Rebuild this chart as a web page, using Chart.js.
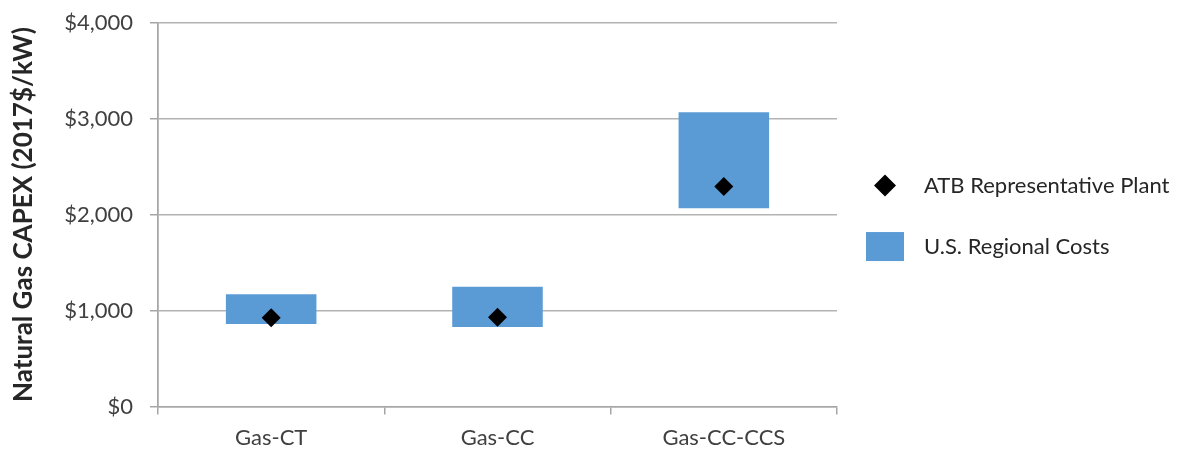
<!DOCTYPE html>
<html>
<head>
<meta charset="utf-8">
<script src="https://cdn.jsdelivr.net/npm/chart.js@4"></script>
<style>
  body { margin: 0; background: #fff; }
  canvas { display: block; }
</style>
</head>
<body>
<canvas id="capexChart" width="1188" height="452"></canvas>
<script>
const categories = ["Gas-CT", "Gas-CC", "Gas-CC-CCS"];
const regionalLow = [861, 830, 2065];
const regionalHigh = [1170, 1247, 3065];
const atbPlant = [924, 930, 2292];
const yTicks = [0, 1000, 2000, 3000, 4000];

const BLUE = "#5b9bd5";
const GRID = "#b3b3b3";
const AXIS = "#a6a6a6";
const FONT = "Lato, 'Liberation Sans', sans-serif";

// legend to the right of the plot (the built-in one is capped too narrow here)
const sideLegend = {
  id: "sideLegend",
  afterDraw(chart) {
    const { ctx, chartArea } = chart;
    const mid = (chartArea.top + chartArea.bottom) / 2;
    const iconX = chartArea.right + 48;
    const textX = chartArea.right + 87;
    const rows = [mid - 29, mid + 32];
    ctx.save();
    ctx.font = "22px " + FONT;
    ctx.textBaseline = "middle";
    ctx.textAlign = "left";
    chart.data.datasets.forEach((ds, i) => {
      const y = rows[i];
      if (ds.type === "line") {
        ctx.fillStyle = "#000";
        ctx.beginPath();
        ctx.moveTo(iconX, y - 11);
        ctx.lineTo(iconX + 11, y);
        ctx.lineTo(iconX, y + 11);
        ctx.lineTo(iconX - 11, y);
        ctx.closePath();
        ctx.fill();
      } else {
        ctx.fillStyle = ds.backgroundColor;
        ctx.fillRect(iconX - 19, y - 14.5, 38, 29);
      }
      ctx.fillStyle = "#262626";
      ctx.fillText(ds.label, textX, y);
    });
    ctx.restore();
  }
};

const ctx = document.getElementById("capexChart").getContext("2d");
new Chart(ctx, {
  type: "bar",
  data: {
    labels: categories,
    datasets: [
      {
        type: "line",
        label: "ATB Representative Plant",
        data: atbPlant,
        showLine: false,
        pointStyle: "rectRot",
        pointRadius: 9.5,
        pointBackgroundColor: "#000",
        pointBorderWidth: 0,
        order: 0
      },
      {
        label: "U.S. Regional Costs",
        data: categories.map((c, i) => [regionalLow[i], regionalHigh[i]]),
        backgroundColor: BLUE,
        borderWidth: 0,
        barPercentage: 0.4,
        categoryPercentage: 1.0,
        order: 1
      }
    ]
  },
  plugins: [sideLegend],
  options: {
    responsive: false,
    animation: false,
    layout: { padding: { left: 0, right: 351, top: 1, bottom: -9 } },
    plugins: {
      tooltip: { enabled: false },
      legend: { display: false }
    },
    scales: {
      x: {
        offset: true,
        grid: {
          offset: true,
          tickLength: 8,
          tickColor: AXIS,
          lineWidth: 1.5,
          // only the outer edges run up through the plot
          color: c => (c.index === 0 || c.index === categories.length) ? AXIS : "rgba(0,0,0,0)"
        },
        border: { color: AXIS, width: 1.5 },
        ticks: { color: "#404040", padding: 10, font: { family: FONT, size: 22 } }
      },
      y: {
        min: 0,
        max: 4000,
        afterBuildTicks: axis => { axis.ticks = yTicks.map(v => ({ value: v })); },
        grid: { color: GRID, lineWidth: 1.5, tickLength: 8, tickColor: AXIS },
        border: { color: AXIS, width: 1.5 },
        ticks: {
          color: "#404040",
          padding: 17,
          font: { family: FONT, size: 22, lineHeight: 0.5 },
          callback: v => "$" + v.toLocaleString("en-US")
        },
        title: {
          display: true,
          text: "Natural Gas CAPEX (2017$/kW)",
          color: "#262626",
          font: { family: FONT, size: 26, weight: "bold" },
          padding: { top: 8, bottom: 8 }
        }
      }
    }
  }
});
</script>
</body>
</html>
